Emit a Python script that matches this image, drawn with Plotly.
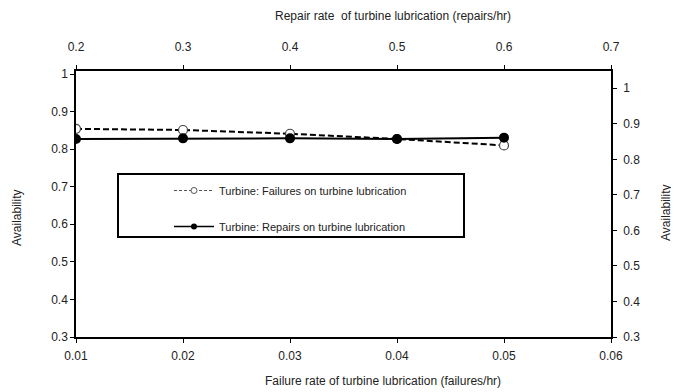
import plotly.graph_objects as go

# ---- data ----
failure_rate = [0.01, 0.02, 0.03, 0.04, 0.05]          # bottom axis (failures/hr)
repair_rate = [0.2, 0.3, 0.4, 0.5, 0.6]                 # top axis (repairs/hr)
avail_failures = [0.854, 0.851, 0.841, 0.827, 0.810]    # left axis
avail_repairs = [0.857, 0.859, 0.859, 0.857, 0.861]     # right axis

x_ticks = [0.01, 0.02, 0.03, 0.04, 0.05, 0.06]
x_ticktext = ["0.01", "0.02", "0.03", "0.04", "0.05", "0.06"]
x2_ticks = [0.2, 0.3, 0.4, 0.5, 0.6, 0.7]
x2_ticktext = ["0.2", "0.3", "0.4", "0.5", "0.6", "0.7"]
y_ticks = [0.3, 0.4, 0.5, 0.6, 0.7, 0.8, 0.9, 1.0]
y_ticktext = ["0.3", "0.4", "0.5", "0.6", "0.7", "0.8", "0.9", "1"]

name_fail = "Turbine: Failures on turbine lubrication"
name_rep = "Turbine: Repairs on turbine lubrication"

FONT = "Liberation Sans, Arial, sans-serif"
TXT = "#222222"

# page body has an 8px margin; plot area target in window: x 76..611, y 71..337
L, T, PW, PH = 68, 63, 535, 266

def px(xw):  # window x -> paper x
    return (xw - 76) / PW

def py(yw):  # window y -> paper y
    return (337 - yw) / PH

fig = go.Figure()
fig.add_trace(go.Scatter(
    x=failure_rate, y=avail_failures, name=name_fail, mode="lines+markers",
    line=dict(color="black", width=2, dash="6px,3px"),
    marker=dict(symbol="circle", size=9, color="white", line=dict(color="#444444", width=1.2)),
    xaxis="x", yaxis="y", showlegend=False,
))
fig.add_trace(go.Scatter(
    x=repair_rate, y=avail_repairs, name=name_rep, mode="lines+markers",
    line=dict(color="black", width=2),
    marker=dict(symbol="circle", size=10, color="black"),
    xaxis="x2", yaxis="y2", showlegend=False,
))
# legend entries (smaller samples, as in the reference legend)
fig.add_trace(go.Scatter(
    x=[None], y=[None], name=name_fail, mode="lines+markers",
    line=dict(color="#555555", width=1, dash="3px,2px"),
    marker=dict(symbol="circle", size=6, color="white", line=dict(color="#555555", width=1)),
    legendgroup="a",
))
fig.add_trace(go.Scatter(
    x=[None], y=[None], name=name_rep, mode="lines+markers",
    line=dict(color="black", width=1.5),
    marker=dict(symbol="circle", size=6, color="black"),
    legendgroup="b",
))

axis_common = dict(showgrid=False, zeroline=False, showline=True, linecolor="black",
                   linewidth=1.5, ticks="outside", ticklen=4, tickcolor="black",
                   tickfont=dict(family=FONT, size=12, color=TXT))

ann_font = dict(family=FONT, size=12, color=TXT)

fig.update_layout(
    width=671, height=384,
    margin=dict(l=L, r=671 - L - PW, t=T, b=384 - T - PH),
    paper_bgcolor="white", plot_bgcolor="white",
    font=dict(family=FONT, size=12, color=TXT),
    xaxis=dict(range=[0.01, 0.06], tickvals=x_ticks, ticktext=x_ticktext,
               ticklabelstandoff=3, **axis_common),
    xaxis2=dict(range=[0.2, 0.7], tickvals=x2_ticks, ticktext=x2_ticktext,
                overlaying="x", side="top", anchor="y", ticklabelstandoff=9, **axis_common),
    yaxis=dict(range=[0.3, 1.008], tickvals=y_ticks, ticktext=y_ticktext, **axis_common),
    yaxis2=dict(range=[0.3, 1.0486], tickvals=y_ticks, ticktext=y_ticktext,
                overlaying="y", side="right", anchor="x", ticklabelstandoff=4, **axis_common),
    showlegend=True,
    legend=dict(x=px(169), y=py(176), xanchor="left", yanchor="top",
                bgcolor="rgba(0,0,0,0)", borderwidth=0, tracegroupgap=17,
                font=dict(family=FONT, size=11, color=TXT), itemwidth=40),
    shapes=[dict(type="rect", xref="paper", yref="paper",
                 x0=px(118), x1=px(464), y0=py(237), y1=py(174),
                 line=dict(color="black", width=2), fillcolor="rgba(0,0,0,0)", layer="below")],
    annotations=[
        dict(text="Repair rate  of turbine lubrication (repairs/hr)", xref="paper", yref="paper",
             x=px(393), y=py(16), xanchor="center", yanchor="middle", showarrow=False, font=ann_font),
        dict(text="Failure rate of turbine lubrication (failures/hr)", xref="paper", yref="paper",
             x=px(383), y=py(381), xanchor="center", yanchor="middle", showarrow=False, font=ann_font),
        dict(text="Availability", xref="paper", yref="paper", textangle=-90,
             x=px(17), y=py(218), xanchor="center", yanchor="middle", showarrow=False, font=ann_font),
        dict(text="Availability", xref="paper", yref="paper", textangle=-90,
             x=px(666), y=py(213), xanchor="center", yanchor="middle", showarrow=False, font=ann_font),
    ],
)

fig.write_html("out.html")
